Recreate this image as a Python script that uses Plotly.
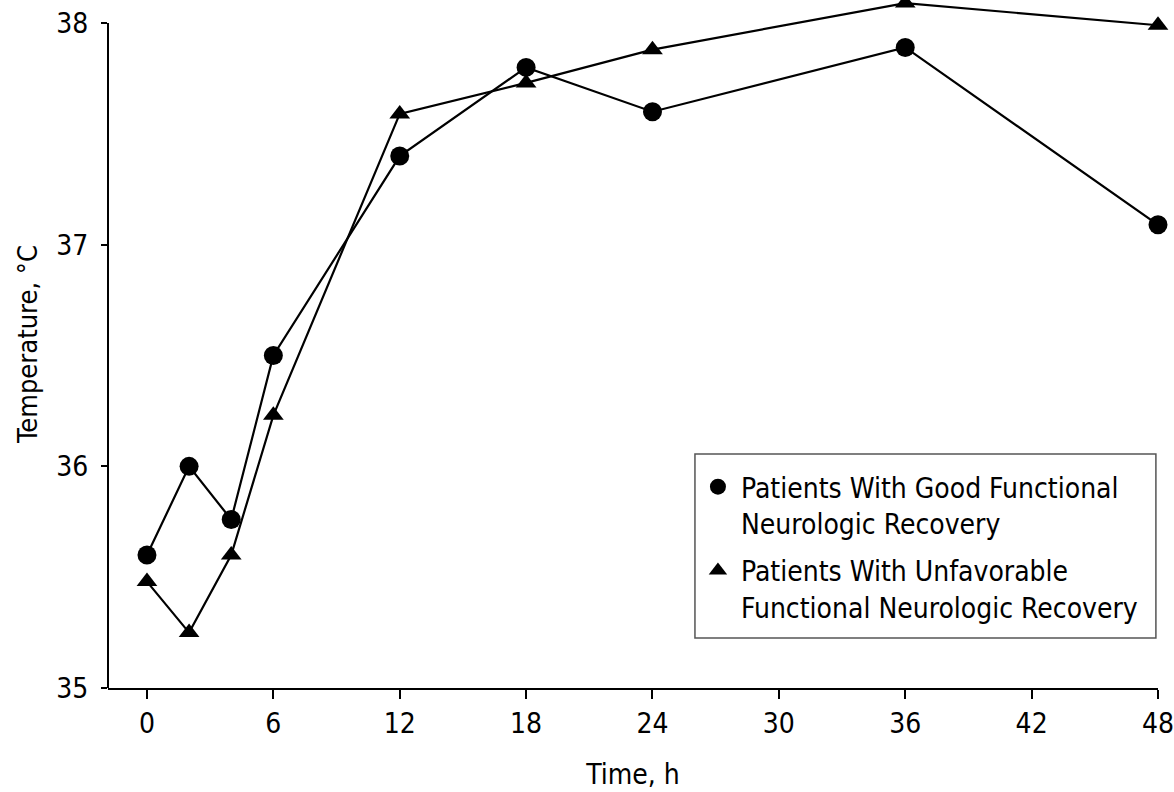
import plotly.graph_objects as go

hours = [0, 2, 4, 6, 12, 18, 24, 36, 48]
good = [35.6, 36.0, 35.76, 36.5, 37.4, 37.8, 37.6, 37.89, 37.09]
unfav = [35.48, 35.25, 35.6, 36.23, 37.59, 37.73, 37.88, 38.09, 37.99]
x_ticks = [0, 6, 12, 18, 24, 30, 36, 42, 48]
y_ticks = [35, 36, 37, 38]
name_good = "Patients With Good Functional<br>Neurologic Recovery"
name_unfav = "Patients With Unfavorable<br>Functional Neurologic Recovery"

FONT = "DejaVu Sans Condensed, Liberation Sans Narrow, sans-serif"

fig = go.Figure()
fig.add_trace(go.Scatter(
    x=hours, y=good, mode="lines+markers", showlegend=False,
    line=dict(color="black", width=2.2),
    marker=dict(symbol="circle", size=19, color="black"),
    cliponaxis=False,
))
fig.add_trace(go.Scatter(
    x=hours, y=unfav, mode="lines+markers", showlegend=False,
    line=dict(color="black", width=2.2),
    marker=dict(symbol="triangle-up", size=18, color="black"),
    cliponaxis=False,
))
# legend entries (marker only, as in the reference)
fig.add_trace(go.Scatter(
    x=[None], y=[None], name=name_good, mode="markers", legendgroup="good",
    marker=dict(symbol="circle", size=19, color="black"),
))
fig.add_trace(go.Scatter(
    x=[None], y=[None], name=name_unfav, mode="markers", legendgroup="unfav",
    marker=dict(symbol="triangle-up", size=18, color="black"),
))

# y-axis line drawn only from 35 to 38 (range extends slightly above for the top marker)
fig.add_shape(type="line", xref="paper", x0=0, x1=0, yref="y", y0=y_ticks[0], y1=y_ticks[-1],
              line=dict(color="black", width=2))
# legend frame
fig.add_shape(type="rect", xref="paper", yref="paper", x0=0.559, x1=0.998, y0=0.0727, y1=0.340,
              line=dict(color="#555", width=1.5), fillcolor="white", layer="above")

fig.update_layout(
    width=1174, height=792,
    margin=dict(l=108, r=16, t=0, b=104),
    paper_bgcolor="white", plot_bgcolor="white",
    font=dict(family=FONT, size=28, color="black"),
    showlegend=True,
    legend=dict(
        x=0.559, y=0.3285, xanchor="left", yanchor="top",
        borderwidth=0, bgcolor="rgba(0,0,0,0)",
        font=dict(size=28, family=FONT, color="black"),
        valign="top", traceorder="grouped", tracegroupgap=8, itemwidth=36,
    ),
    xaxis=dict(
        range=[-1.85, 48], tickvals=x_ticks, ticks="outside", ticklen=9,
        tickwidth=2, tickcolor="black", showline=True, linecolor="black",
        linewidth=2, showgrid=False, zeroline=False,
        ticklabelstandoff=0, ticklabeloverflow="allow",
        title=dict(text="Time, h", standoff=26, font=dict(size=28, family=FONT)),
    ),
    yaxis=dict(
        range=[35, 38.104], tickvals=y_ticks, ticks="outside", ticklen=6,
        tickwidth=2, tickcolor="black", showline=False,
        showgrid=False, zeroline=False,
        ticklabelstandoff=7,
        title=dict(text="Temperature, °C", standoff=10, font=dict(size=27, family=FONT)),
    ),
)

fig.write_html("out.html", config={"displayModeBar": False},
               post_script="document.body.style.margin='0px';")
